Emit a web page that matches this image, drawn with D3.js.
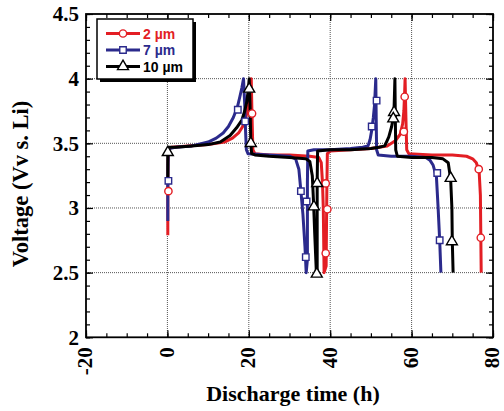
<!DOCTYPE html>
<html><head><meta charset="utf-8">
<script src="https://cdn.jsdelivr.net/npm/d3@7"></script>
<style>
html,body{margin:0;padding:0;background:#fff;}
svg{display:block;}
</style>
</head><body>
<script>
// ---- data ----
const seriesNames = ["2 µm", "7 µm", "10 µm"];
const seriesColors = ["#e31e24", "#2b2a8c", "#000000"];
const seriesSymbols = ["circle", "square", "triangle"];

const red2um = [
  [0.1,2.79],[0.1,3.1],[0.15,3.35],[0.3,3.45],[1,3.47],[5,3.48],[10,3.49],[14,3.51],[16,3.54],[17.5,3.58],
  [18.5,3.63],[19.3,3.7],[19.9,3.8],[20.3,3.9],[20.6,4.0],[20.8,3.7],[21.0,3.45],[21.5,3.42],[25,3.41],
  [30,3.41],[35,3.40],[37.2,3.39],[37.8,3.35],[38.1,3.2],[38.3,3.0],[38.4,2.75],[38.5,2.5],
  [39.0,2.55],[39.1,2.9],[39.2,3.2],[39.3,3.42],[40,3.44],[45,3.45],[50,3.46],[54,3.48],[56,3.52],
  [57.2,3.57],[57.8,3.65],[58.1,3.75],[58.3,3.9],[58.4,4.0],[58.6,3.7],[58.8,3.45],[59.3,3.42],
  [65,3.41],[70,3.41],[73.5,3.40],[75,3.38],[75.9,3.35],[76.6,3.28],[76.9,3.1],[77.0,2.8],[77.1,2.5]
];
const blue7um = [
  [0.1,2.9],[0.1,3.2],[0.2,3.4],[0.4,3.46],[2,3.47],[6,3.48],[10,3.51],[12,3.54],[13.7,3.58],[15,3.63],
  [16.2,3.70],[17.2,3.78],[17.8,3.86],[18.3,3.93],[18.7,4.0],[19.0,3.8],[19.2,3.6],[19.4,3.45],[19.8,3.42],
  [25,3.41],[30,3.40],[31.5,3.38],[32.3,3.3],[32.8,3.13],[33.3,2.95],[33.8,2.7],[34.1,2.5],
  [34.4,2.6],[34.4,3.2],[34.5,3.44],[36,3.45],[40,3.45],[45,3.46],[48,3.47],[49.3,3.48],[49.8,3.53],
  [50.2,3.60],[50.6,3.7],[50.9,3.8],[51.2,4.0],[51.3,3.7],[51.4,3.45],[51.8,3.41],[55,3.40],[60,3.40],
  [63.5,3.39],[64.5,3.37],[65.3,3.33],[66.1,3.24],[66.5,3.01],[66.9,2.75],[67.2,2.5]
];
const black10um = [
  [0.1,3.24],[0.1,3.43],[0.3,3.47],[2,3.47],[6,3.48],[10,3.49],[13,3.51],[15.4,3.56],[17,3.62],[18.3,3.68],
  [19.0,3.75],[19.5,3.82],[19.9,3.92],[20.1,4.0],[20.3,3.8],[20.5,3.5],[20.7,3.42],[21.5,3.41],[25,3.40],
  [30,3.39],[34,3.38],[35,3.36],[35.6,3.25],[35.9,3.05],[36.2,2.8],[36.6,2.5],
  [36.8,2.5],[36.8,3.2],[36.9,3.44],[40,3.45],[45,3.45],[50,3.46],[52,3.47],[53.4,3.48],[54.4,3.55],
  [55.1,3.63],[55.5,3.70],[55.7,3.78],[55.9,4.0],[56.0,3.7],[56.1,3.45],[56.5,3.40],[60,3.39],[65,3.39],
  [67.7,3.38],[69,3.35],[69.6,3.22],[69.9,3.0],[70.0,2.74],[70.2,2.5]
];

const red2umMarkers = [[0.25,3.13],[20.8,3.73],[38.9,3.19],[39.3,2.99],[38.9,2.65],[58.3,3.86],[58.1,3.59],[76.5,3.30],[77.0,2.77]];
const blue7umMarkers = [[0.25,3.21],[17.3,3.76],[19.1,3.67],[32.8,3.13],[34.2,3.05],[34.0,2.62],[51.4,3.83],[50.2,3.63],[66.3,3.27],[66.9,2.75]];
const black10umMarkers = [[0.1,3.43],[20.1,3.92],[20.5,3.50],[36.8,3.19],[36.0,3.01],[36.7,2.49],[55.7,3.74],[55.5,3.69],[69.6,3.23],[69.9,2.74]];

const xTicks = [-20, 0, 20, 40, 60, 80];
const xTickLabels = ["-20", "0", "20", "40", "60", "80"];
const yTicks = [2, 2.5, 3, 3.5, 4, 4.5];
const yTickLabels = ["2", "2.5", "3", "3.5", "4", "4.5"];
const xTitle = "Discharge time (h)";
const yTitle = "Voltage (Vv s. Li)";

// ---- drawing ----
const W = 504, H = 411;
const m = {left: 86, right: 493, top: 14, bottom: 337.3};
const x = d3.scaleLinear().domain([-20, 80]).range([m.left, m.right]);
const y = d3.scaleLinear().domain([2, 4.5]).range([m.bottom, m.top]);

const svg = d3.select("body").append("svg").attr("width", W).attr("height", H);

// grid
const grid = svg.append("g");
grid.selectAll(".gx").data(xTicks.slice(1, -1)).join("line")
  .attr("x1", d => x(d)).attr("x2", d => x(d)).attr("y1", m.top).attr("y2", m.bottom)
  .attr("stroke", "#555").attr("stroke-width", 1).attr("stroke-dasharray", "1,1");
grid.selectAll(".gy").data(yTicks.slice(1, -1)).join("line")
  .attr("y1", d => y(d)).attr("y2", d => y(d)).attr("x1", m.left).attr("x2", m.right)
  .attr("stroke", "#555").attr("stroke-width", 1).attr("stroke-dasharray", "1,1");

// axes with inward ticks (minor + major)
const xMinor = d3.range(-20, 80.01, 5);
const yMinor = d3.range(2, 4.501, 0.1);
function addAxis(axisGen, tx, ty) {
  const g = svg.append("g").attr("transform", `translate(${tx},${ty})`).call(axisGen);
  g.select(".domain").remove();
  g.selectAll("text").remove();
  g.selectAll("line").attr("stroke", "#000").attr("stroke-width", 1.2);
  return g;
}
addAxis(d3.axisBottom(x).tickValues(xMinor).tickSize(-4), 0, m.bottom);
addAxis(d3.axisTop(x).tickValues(xMinor).tickSize(-4), 0, m.top);
addAxis(d3.axisLeft(y).tickValues(yMinor).tickSize(-4), m.left, 0);
addAxis(d3.axisRight(y).tickValues(yMinor).tickSize(-4), m.right, 0);
addAxis(d3.axisBottom(x).tickValues(xTicks).tickSize(-7), 0, m.bottom);
addAxis(d3.axisTop(x).tickValues(xTicks).tickSize(-7), 0, m.top);
addAxis(d3.axisLeft(y).tickValues(yTicks).tickSize(-7), m.left, 0);
addAxis(d3.axisRight(y).tickValues(yTicks).tickSize(-7), m.right, 0);

// frame
svg.append("rect").attr("x", m.left).attr("y", m.top)
  .attr("width", m.right - m.left).attr("height", m.bottom - m.top)
  .attr("fill", "none").attr("stroke", "#000").attr("stroke-width", 1.8);

// tick labels
const serif = "'Liberation Serif','Times New Roman',serif";
svg.append("g").selectAll("text").data(yTicks).join("text")
  .attr("x", 79).attr("y", d => y(d)).attr("dy", "0.35em")
  .attr("text-anchor", "end").attr("font-family", serif).attr("font-weight", "bold")
  .attr("font-size", 21).text((d, i) => yTickLabels[i]);
svg.append("g").selectAll("text").data(xTicks).join("text")
  .attr("transform", d => `translate(${x(d)},${m.bottom + 10}) rotate(-90)`)
  .attr("dy", "0.3em").attr("text-anchor", "end")
  .attr("font-family", serif).attr("font-weight", "bold").attr("font-size", 21)
  .text((d, i) => xTickLabels[i]);

// axis titles
svg.append("text").attr("x", 293).attr("y", 401)
  .attr("text-anchor", "middle").attr("font-family", serif).attr("font-weight", "bold")
  .attr("font-size", 22).text(xTitle);
svg.append("text").attr("transform", `translate(28,184) rotate(-90)`)
  .attr("text-anchor", "middle").attr("font-family", serif).attr("font-weight", "bold")
  .attr("font-size", 22.5).text(yTitle);

// series
const allData = [red2um, blue7um, black10um];
const allMarkers = [red2umMarkers, blue7umMarkers, black10umMarkers];
const line = d3.line().x(d => x(d[0])).y(d => y(d[1])).curve(d3.curveLinear);
const symType = {circle: d3.symbolCircle, square: d3.symbolSquare, triangle: d3.symbolTriangle};
const symSize = {circle: 42, square: 42, triangle: 52};

const plot = svg.append("g");
allData.forEach((data, i) => {
  plot.append("path").datum(data).attr("d", line)
    .attr("fill", "none").attr("stroke", seriesColors[i]).attr("stroke-width", 3)
    .attr("stroke-linejoin", "round").attr("stroke-linecap", "butt");
});
allMarkers.forEach((mk, i) => {
  const s = seriesSymbols[i];
  plot.append("g").selectAll("path").data(mk).join("path")
    .attr("transform", d => `translate(${x(d[0])},${y(d[1])})`)
    .attr("d", d3.symbol().type(symType[s]).size(symSize[s]))
    .attr("fill", "#fff").attr("stroke", seriesColors[i]).attr("stroke-width", 1.4);
});

// legend
const lg = svg.append("g");
const lx = 97, ly = 19, lw = 96, lh = 60;
lg.append("rect").attr("x", lx + 3).attr("y", ly + 3).attr("width", lw).attr("height", lh).attr("fill", "#000");
lg.append("rect").attr("x", lx).attr("y", ly).attr("width", lw).attr("height", lh)
  .attr("fill", "#fff").attr("stroke", "#000").attr("stroke-width", 1.5);
const rows = [33.5, 50, 66.5];
seriesNames.forEach((name, i) => {
  const s = seriesSymbols[i];
  lg.append("line").attr("x1", 106).attr("x2", 140).attr("y1", rows[i]).attr("y2", rows[i])
    .attr("stroke", seriesColors[i]).attr("stroke-width", 3);
  lg.append("path").attr("transform", `translate(123,${rows[i]})`)
    .attr("d", d3.symbol().type(symType[s]).size(symSize[s]))
    .attr("fill", "#fff").attr("stroke", seriesColors[i]).attr("stroke-width", 1.4);
  lg.append("text").attr("x", 143).attr("y", rows[i]).attr("dy", "0.36em")
    .attr("font-family", "'Liberation Sans',Arial,sans-serif").attr("font-weight", "bold")
    .attr("font-size", 14).attr("fill", seriesColors[i]).text(name);
});
</script>
</body></html>
